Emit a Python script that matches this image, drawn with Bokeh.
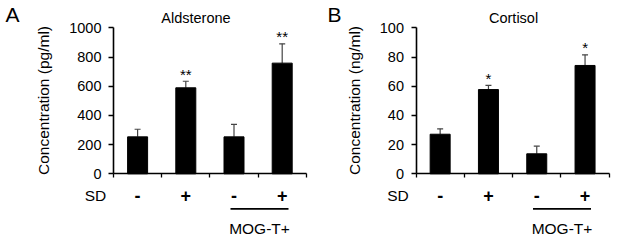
from bokeh.plotting import figure
from bokeh.layouts import row
from bokeh.models import FixedTicker, ColumnDataSource, Whisker, TeeHead
from bokeh.embed import file_html
from bokeh.resources import INLINE

# ---------------- data ----------------
groups = [1, 2, 3, 4]
sd_labels = ["-", "+", "-", "+"]
group_label = "MOG-T+"

ald_mean = [253, 589, 253, 758]
ald_sd = [52, 45, 85, 132]
ald_stars = ["", "**", "", "**"]
ald_ticks = [0, 200, 400, 600, 800, 1000]

cort_mean = [27.1, 57.7, 13.7, 74.2]
cort_sd = [3.7, 2.8, 5.2, 7.3]
cort_stars = ["", "*", "", "*"]
cort_ticks = [0, 20, 40, 60, 80, 100]

FONT = "Liberation Sans"


def panel(width, ax_px, ux, ymax, means, sds, stars, ticks, title, letter, ylabel):
    H = 243
    zero_px = 173.3
    uy = 146.0 / ymax  # px per data unit

    def dx(px):
        return 0.5 + (px - ax_px) / ux

    def dy(py):
        return (zero_px - py) / uy

    p = figure(width=width, height=H, output_backend="svg", toolbar_location=None,
               x_range=(dx(0), dx(width)), y_range=(dy(H), dy(0)),
               min_border=0, min_border_left=0, min_border_right=0,
               min_border_top=0, min_border_bottom=0)
    p.outline_line_color = None
    p.background_fill_color = "white"
    p.border_fill_color = "white"
    p.xgrid.visible = False
    p.ygrid.visible = False

    # x axis (at y=0)
    xa = p.xaxis[0]
    xa.fixed_location = 0
    xa.bounds = (0.5, 4.5)
    xa.ticker = FixedTicker(ticks=[0.5, 1.5, 2.5, 3.5, 4.5])
    xa.major_label_text_font_size = "0px"
    xa.major_label_text_color = None
    xa.major_tick_in = 0
    xa.major_tick_out = 4
    xa.minor_tick_line_color = None
    xa.axis_line_width = 1.6
    xa.major_tick_line_width = 1.3
    xa.axis_line_color = "black"

    # y axis (at x=0.5)
    ya = p.yaxis[0]
    ya.fixed_location = 0.5
    ya.bounds = (0, ymax)
    ya.ticker = FixedTicker(ticks=ticks)
    ya.major_tick_in = 0
    ya.major_tick_out = 5
    ya.minor_tick_line_color = None
    ya.axis_line_width = 1.6
    ya.major_tick_line_width = 1.3
    ya.major_label_standoff = 7
    ya.major_label_text_font = FONT
    ya.major_label_text_font_size = "14.5px"
    ya.major_label_text_color = "black"
    ya.axis_label = ylabel
    ya.axis_label_text_font = FONT
    ya.axis_label_text_font_style = "normal"
    ya.axis_label_text_font_size = "15.5px"
    ya.axis_label_text_color = "black"
    ya.axis_label_standoff = 14

    upper = [m + s for m, s in zip(means, sds)]
    src = ColumnDataSource(dict(x=groups, top=means, upper=upper, stars=stars,
                                star_y=[u + 7 / uy for u in upper], sd=sd_labels))
    p.vbar(x="x", top="top", width=20 / ux, source=src, fill_color="black", line_color="black")
    p.add_layout(Whisker(base="x", lower="top", upper="upper", source=src,
                         line_color="#444444", line_width=1.2,
                         lower_head=None,
                         upper_head=TeeHead(size=6, line_color="#444444", line_width=1.2)))
    p.text(x="x", y="star_y", text="stars", source=src, text_align="center",
           text_baseline="alphabetic", text_font_size="15px", text_color="black",
           text_font=dict(value=FONT))

    # SD row
    y_sd = dy(195)
    p.text(x="x", y=y_sd, text="sd", source=src, text_align="center", text_baseline="middle",
           text_font_size="18px", text_font_style="bold", text_color="black",
           text_font=dict(value=FONT))
    p.text(x=[dx(ax_px - 18)], y=[y_sd], text=["SD"], text_align="center", text_baseline="middle",
           text_font_size="15.5px", text_color="black", text_font=dict(value=FONT))
    # group bracket
    p.line(x=[dx(ax_px + 117), dx(ax_px + 175)], y=[dy(208.3), dy(208.3)],
           line_color="black", line_width=1.8)
    p.text(x=[dx(ax_px + 146)], y=[dy(228)], text=[group_label], text_align="center",
           text_baseline="middle", text_font_size="15.5px", text_color="black",
           text_font=dict(value=FONT))
    # title and panel letter
    p.text(x=[title[1]], y=[dy(17)], text=[title[0]], text_align="center", text_baseline="middle",
           text_font_size="14.5px", text_color="black", text_font=dict(value=FONT))
    p.text(x=[dx(letter[1])], y=[dy(14)], text=[letter[0]], text_align="center",
           text_baseline="middle", text_font_size="21px", text_color="black",
           text_font=dict(value=FONT))
    return p


pA = panel(308, 113.0, 48.2, 1000, ald_mean, ald_sd, ald_stars, ald_ticks,
           ("Aldsterone", 2.21), ("A", 12), "Concentration (pg/ml)")
pB = panel(309, 107.5, 48.3, 100, cort_mean, cort_sd, cort_stars, cort_ticks,
           ("Cortisol", 2.52), ("B", 26), "Concentration (ng/ml)")

layout = row(pA, pB)
open("out.html", "w").write(file_html(layout, INLINE))
